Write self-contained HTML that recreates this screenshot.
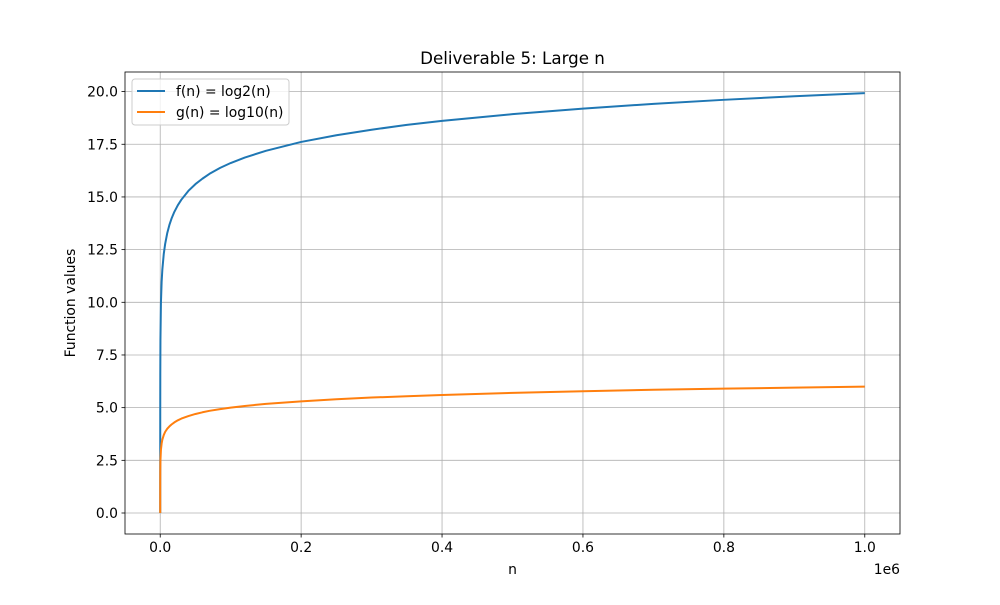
<!DOCTYPE html>
<html><head><meta charset="utf-8"><style>
body{margin:0;background:#fff;}
svg text{font-family:"DejaVu Sans","Liberation Sans",sans-serif;fill:#000;}
</style></head><body>
<svg id="chart" width="1000" height="600" xmlns="http://www.w3.org/2000/svg">
<rect width="1000" height="600" fill="#fff"/>
<g id="grid"></g>
<g id="series"></g>
<rect x="125" y="72" width="775" height="462" fill="none" stroke="#000" stroke-width="0.8"/>
<g id="ticks"></g>
<text x="512.5" y="64" font-size="16.7" text-anchor="middle">Deliverable 5: Large n</text>
<text x="512.5" y="574" font-size="13.9" text-anchor="middle">n</text>
<text x="900" y="574" font-size="13.9" text-anchor="end">1e6</text>
<text x="0" y="0" font-size="13.9" text-anchor="middle" transform="translate(75,303) rotate(-90)">Function values</text>
<g>
<rect x="132" y="79" width="157" height="46" rx="3" fill="#fff" fill-opacity="0.8" stroke="#ccc"/>
<line x1="137" y1="91" x2="165" y2="91" stroke="#1f77b4" stroke-width="2"/>
<text x="176" y="96" font-size="13.9">f(n) = log2(n)</text>
<line x1="137" y1="112" x2="165" y2="112" stroke="#ff7f0e" stroke-width="2"/>
<text x="176" y="117" font-size="13.9">g(n) = log10(n)</text>
</g>
</svg>
<script>
const nValues=[1,2,5,10,30,100,300,1000,2000,3000,5000,7000,10000,13000,16000,20000,25000,30000,40000,50000,60000,70000,85000,100000,120000,150000,200000,250000,300000,350000,400000,500000,600000,700000,800000,900000,1000000];
const fValues=[0,1,2.32,3.32,4.91,6.64,8.23,9.97,10.97,11.55,12.29,12.77,13.29,13.67,13.97,14.29,14.61,14.87,15.29,15.61,15.87,16.10,16.38,16.61,16.87,17.19,17.61,17.93,18.19,18.42,18.61,18.93,19.19,19.42,19.61,19.78,19.93];
const gValues=[0,0.3,0.7,1,1.48,2,2.48,3,3.3,3.48,3.7,3.85,4,4.11,4.2,4.3,4.4,4.48,4.6,4.7,4.78,4.85,4.93,5,5.08,5.18,5.3,5.4,5.48,5.54,5.6,5.7,5.78,5.85,5.9,5.95,6];
const xTicks=[0,200000,400000,600000,800000,1000000];
const xTickLabels=["0.0","0.2","0.4","0.6","0.8","1.0"];
const yTicks=[0,2.5,5,7.5,10,12.5,15,17.5,20];
const yTickLabels=["0.0","2.5","5.0","7.5","10.0","12.5","15.0","17.5","20.0"];
const L=125,R=900,T=72,B=534;
const xmin=-49999,xmax=1049999,ymin=-0.9966,ymax=20.93;
const xs=v=>L+(v-xmin)/(xmax-xmin)*(R-L);
const ys=v=>B-(v-ymin)/(ymax-ymin)*(B-T);
const NS="http://www.w3.org/2000/svg";
function mk(tag,attrs,parent){const e=document.createElementNS(NS,tag);for(const k in attrs)e.setAttribute(k,attrs[k]);parent.appendChild(e);return e;}
const grid=document.getElementById('grid'),ticks=document.getElementById('ticks'),series=document.getElementById('series');
xTicks.forEach((v,i)=>{const x=xs(v);
 const g=mk('line',{x1:x,x2:x,y1:T,y2:B,stroke:'#b0b0b0','stroke-width':0.8},grid);
 
 
 mk('line',{x1:x,x2:x,y1:B,y2:B+3.5,stroke:'#000','stroke-width':0.8},ticks);
 const t=mk('text',{x:x,y:B+18,'font-size':13.9,'text-anchor':'middle'},ticks);t.textContent=xTickLabels[i];
 
 
});
yTicks.forEach((v,i)=>{const y=ys(v);
 const g=mk('line',{x1:L,x2:R,y1:y,y2:y,stroke:'#b0b0b0','stroke-width':0.8},grid);
 
 
 mk('line',{x1:L-3.5,x2:L,y1:y,y2:y,stroke:'#000','stroke-width':0.8},ticks);
 const t=mk('text',{x:L-7,y:y+5,'font-size':13.9,'text-anchor':'end'},ticks);t.textContent=yTickLabels[i];
 
 
});
function line(vals,color,name){
 const p=mk('polyline',{points:nValues.map((n,i)=>xs(n)+','+ys(vals[i])).join(' '),fill:'none',stroke:color,'stroke-width':2,'stroke-linejoin':'round'},series);
 
 
}
line(fValues,'#1f77b4','line-log2');
line(gValues,'#ff7f0e','line-log10');
</script>
</body></html>
